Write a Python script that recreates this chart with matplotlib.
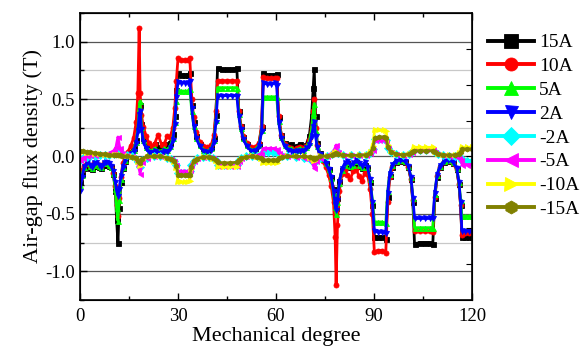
import matplotlib
matplotlib.use("Agg")
import matplotlib.pyplot as plt
from matplotlib.ticker import MultipleLocator

# mechanical angle (deg) for the positive-current curves
deg_pos = [0, 0.6, 1.3, 2.2, 3.0, 3.6, 4.3, 5.0, 5.8, 6.5,
           7.3, 8.0, 8.8, 9.5, 10.2, 10.8, 11.2, 11.6, 12.0, 12.5,
           13.1, 13.8, 14.6, 15.5, 16.4, 17.2, 17.7, 18.1, 18.4, 18.8,
           19.4, 20.2, 21.0, 22.0, 22.8, 23.9, 25.0, 25.8, 26.7, 27.6,
           28.4, 29.0, 29.5, 30.0, 31.0, 32.0, 33.0, 33.6, 34.2, 34.8,
           35.6, 36.6, 37.8, 39.0, 40.2, 41.0, 41.6, 42.1, 43.5, 45.0,
           46.5, 48.0, 48.6, 49.2, 50.0, 51.0, 52.3, 53.6, 54.8, 55.6,
           56.1, 57.3, 58.5, 59.6, 60.2, 60.8, 61.6, 62.6, 63.6, 64.7,
           65.6, 66.3, 67.2, 68.2, 69.2, 70.2, 70.9, 71.4, 71.7, 72.1,
           72.6, 73.4, 74.3, 75.2, 76.1, 76.9, 77.6, 78.1, 78.4, 78.8,
           79.4, 80.2, 81.0, 81.8, 82.7, 83.6, 84.5, 85.4, 86.3, 87.2,
           88.0, 88.8, 89.5, 90.1, 91.2, 92.4, 93.6, 94.2, 94.8, 95.6,
           96.6, 98.0, 99.4, 100.5, 101.3, 101.9, 102.4, 104.0, 105.5, 107.0,
           108.0, 108.6, 109.3, 110.2, 111.4, 112.8, 114.2, 115.3, 116.0, 116.5,
           116.9, 118.0, 119.0, 120.0]

b_15A = [-0.22, -0.15, -0.10, -0.08, -0.10, -0.11, -0.08, -0.08, -0.09, -0.10,
         -0.07, -0.07, -0.08, -0.09, -0.15, -0.30, -0.55, -0.75, -0.45, -0.22,
         -0.10, -0.04, 0.00, 0.04, 0.07, 0.14, 0.25, 0.40, 0.45, 0.28,
         0.16, 0.10, 0.08, 0.08, 0.11, 0.08, 0.08, 0.11, 0.09, 0.12,
         0.20, 0.35, 0.58, 0.73, 0.71, 0.71, 0.71, 0.73, 0.45, 0.30,
         0.18, 0.11, 0.07, 0.06, 0.08, 0.16, 0.36, 0.77, 0.76, 0.76,
         0.76, 0.77, 0.40, 0.27, 0.17, 0.11, 0.07, 0.07, 0.11, 0.26,
         0.73, 0.71, 0.71, 0.71, 0.72, 0.34, 0.19, 0.12, 0.10, 0.11,
         0.08, 0.09, 0.11, 0.08, 0.10, 0.18, 0.35, 0.60, 0.76, 0.35,
         0.12, 0.03, -0.02, -0.06, -0.11, -0.18, -0.28, -0.40, -0.45, -0.36,
         -0.21, -0.12, -0.08, -0.06, -0.09, -0.08, -0.05, -0.08, -0.10, -0.07,
         -0.10, -0.22, -0.42, -0.70, -0.70, -0.70, -0.72, -0.35, -0.17, -0.09,
         -0.05, -0.04, -0.05, -0.09, -0.20, -0.40, -0.76, -0.75, -0.75, -0.75,
         -0.76, -0.36, -0.18, -0.09, -0.05, -0.04, -0.06, -0.11, -0.24, -0.42,
         -0.70, -0.70, -0.70, -0.70]

b_10A = [-0.20, -0.12, -0.08, -0.06, -0.08, -0.09, -0.06, -0.06, -0.07, -0.09,
         -0.06, -0.06, -0.07, -0.09, -0.14, -0.26, -0.42, -0.52, -0.36, -0.18,
         -0.06, 0.00, 0.04, 0.09, 0.16, 0.30, 0.55, 1.12, 0.55, 0.36,
         0.26, 0.18, 0.12, 0.09, 0.11, 0.19, 0.10, 0.11, 0.18, 0.17,
         0.25, 0.42, 0.66, 0.86, 0.84, 0.84, 0.84, 0.86, 0.50, 0.34,
         0.21, 0.13, 0.09, 0.08, 0.10, 0.19, 0.40, 0.66, 0.66, 0.66,
         0.66, 0.66, 0.40, 0.27, 0.18, 0.12, 0.08, 0.08, 0.12, 0.27,
         0.69, 0.68, 0.68, 0.68, 0.68, 0.35, 0.19, 0.11, 0.08, 0.07,
         0.06, 0.07, 0.08, 0.07, 0.09, 0.14, 0.25, 0.40, 0.50, 0.25,
         0.10, 0.00, -0.04, -0.09, -0.16, -0.26, -0.40, -0.70, -1.12, -0.60,
         -0.30, -0.15, -0.12, -0.16, -0.20, -0.13, -0.11, -0.17, -0.21, -0.14,
         -0.15, -0.28, -0.50, -0.83, -0.82, -0.82, -0.84, -0.40, -0.18, -0.09,
         -0.05, -0.04, -0.05, -0.09, -0.20, -0.38, -0.65, -0.65, -0.65, -0.65,
         -0.66, -0.35, -0.17, -0.09, -0.05, -0.04, -0.06, -0.11, -0.24, -0.42,
         -0.68, -0.67, -0.67, -0.67]

b_5A = [-0.25, -0.16, -0.09, -0.06, -0.08, -0.10, -0.07, -0.06, -0.08, -0.09,
        -0.06, -0.06, -0.07, -0.09, -0.14, -0.28, -0.45, -0.56, -0.38, -0.20,
        -0.09, -0.03, 0.01, 0.03, 0.06, 0.13, 0.24, 0.42, 0.48, 0.26,
        0.14, 0.08, 0.06, 0.05, 0.07, 0.05, 0.05, 0.07, 0.06, 0.09,
        0.16, 0.30, 0.48, 0.58, 0.57, 0.57, 0.57, 0.59, 0.40, 0.27,
        0.16, 0.10, 0.06, 0.05, 0.07, 0.14, 0.32, 0.60, 0.60, 0.60,
        0.60, 0.60, 0.37, 0.25, 0.16, 0.10, 0.06, 0.06, 0.10, 0.23,
        0.52, 0.52, 0.52, 0.52, 0.52, 0.31, 0.17, 0.10, 0.07, 0.07,
        0.05, 0.06, 0.07, 0.06, 0.08, 0.13, 0.24, 0.38, 0.46, 0.22,
        0.09, 0.02, -0.02, -0.06, -0.11, -0.19, -0.32, -0.44, -0.50, -0.40,
        -0.23, -0.12, -0.07, -0.05, -0.08, -0.07, -0.04, -0.07, -0.09, -0.06,
        -0.09, -0.20, -0.38, -0.57, -0.57, -0.57, -0.58, -0.30, -0.15, -0.07,
        -0.04, -0.03, -0.04, -0.08, -0.18, -0.36, -0.62, -0.62, -0.62, -0.62,
        -0.62, -0.33, -0.16, -0.08, -0.04, -0.03, -0.05, -0.10, -0.22, -0.38,
        -0.52, -0.52, -0.52, -0.52]

b_2A = [-0.30, -0.18, -0.09, -0.05, -0.07, -0.09, -0.06, -0.05, -0.07, -0.09,
        -0.06, -0.05, -0.06, -0.08, -0.13, -0.22, -0.30, -0.34, -0.28, -0.17,
        -0.09, -0.03, 0.00, 0.02, 0.05, 0.12, 0.22, 0.36, 0.40, 0.24,
        0.13, 0.07, 0.04, 0.03, 0.05, 0.03, 0.03, 0.05, 0.04, 0.07,
        0.14, 0.28, 0.52, 0.65, 0.64, 0.64, 0.64, 0.66, 0.42, 0.27,
        0.16, 0.09, 0.05, 0.04, 0.06, 0.13, 0.30, 0.53, 0.53, 0.53,
        0.53, 0.53, 0.35, 0.24, 0.15, 0.09, 0.05, 0.05, 0.09, 0.22,
        0.64, 0.63, 0.63, 0.64, 0.62, 0.30, 0.16, 0.09, 0.06, 0.05,
        0.04, 0.05, 0.05, 0.05, 0.07, 0.10, 0.18, 0.26, 0.30, 0.18,
        0.08, 0.02, -0.02, -0.06, -0.11, -0.18, -0.30, -0.42, -0.47, -0.38,
        -0.22, -0.11, -0.06, -0.04, -0.07, -0.06, -0.03, -0.06, -0.08, -0.05,
        -0.09, -0.20, -0.40, -0.65, -0.66, -0.66, -0.67, -0.32, -0.15, -0.07,
        -0.04, -0.03, -0.04, -0.08, -0.18, -0.36, -0.54, -0.54, -0.54, -0.54,
        -0.54, -0.32, -0.16, -0.08, -0.04, -0.03, -0.05, -0.10, -0.22, -0.40,
        -0.65, -0.65, -0.65, -0.65]

# mechanical angle (deg) for the negative-current curves
deg_neg = [0, 1.0, 2.0, 3.0, 4.5, 6.0, 7.5, 9.0, 10.3, 11.0,
           11.6, 12.2, 13.0, 14.5, 16.0, 17.2, 17.9, 18.4, 19.0, 20.5,
           22.5, 24.5, 26.5, 28.0, 28.9, 29.5, 30.0, 31.0, 32.0, 33.0,
           33.6, 34.1, 34.8, 35.8, 37.5, 39.5, 40.8, 41.6, 42.1, 44.0,
           46.0, 48.0, 48.6, 49.4, 50.8, 52.5, 54.2, 55.5, 56.1, 57.5,
           59.0, 60.2, 60.8, 61.8, 63.5, 66.0, 68.5, 70.5, 71.2, 71.7,
           72.3, 73.5, 75.5, 77.2, 77.9, 78.4, 79.0, 80.5, 83.0, 85.5,
           87.5, 88.8, 89.6, 90.2, 91.5, 93.0, 93.7, 94.3, 95.2, 96.8,
           98.8, 100.6, 101.5, 102.2, 104.0, 106.0, 108.0, 108.6, 109.5, 111.0,
           113.0, 114.8, 115.9, 116.5, 117.0, 118.5, 120.0]

b_m2A = [-0.03, -0.015, -0.005, 0.0, 0.005, 0.01, 0.01, 0.015, 0.025, 0.04,
         0.07, 0.04, 0.02, 0.01, 0.0, -0.02, -0.05, -0.09, -0.03, -0.01,
         0.0, 0.0, -0.01, -0.02, -0.04, -0.07, -0.14, -0.14, -0.14, -0.14,
         -0.13, -0.07, -0.035, -0.015, -0.005, -0.005, -0.015, -0.03, -0.07, -0.07,
         -0.07, -0.07, -0.03, -0.015, 0.0, 0.005, 0.005, 0.015, 0.035, 0.035,
         0.035, 0.035, 0.015, 0.005, 0.0, -0.005, -0.01, -0.02, -0.04, -0.06,
         -0.03, -0.01, 0.005, 0.02, 0.04, 0.06, 0.03, 0.01, 0.01, 0.01,
         0.015, 0.03, 0.065, 0.15, 0.15, 0.15, 0.14, 0.07, 0.035, 0.02,
         0.015, 0.025, 0.035, 0.06, 0.06, 0.06, 0.06, 0.035, 0.02, 0.01,
         0.005, 0.0, -0.005, -0.015, -0.035, -0.035, -0.035]

b_m5A = [-0.03, -0.01, 0.0, 0.01, 0.015, 0.02, 0.02, 0.03, 0.05, 0.08,
         0.17, 0.07, 0.03, 0.01, 0.0, -0.03, -0.08, -0.15, -0.05, -0.01,
         0.0, 0.0, -0.01, -0.02, -0.04, -0.07, -0.13, -0.13, -0.13, -0.13,
         -0.12, -0.07, -0.035, -0.015, -0.005, -0.005, -0.015, -0.035, -0.08, -0.08,
         -0.08, -0.08, -0.035, -0.015, 0.0, 0.005, 0.01, 0.025, 0.07, 0.07,
         0.07, 0.065, 0.03, 0.01, 0.0, -0.005, -0.01, -0.03, -0.06, -0.10,
         -0.04, -0.01, 0.005, 0.03, 0.06, 0.10, 0.04, 0.015, 0.01, 0.01,
         0.015, 0.03, 0.06, 0.14, 0.14, 0.14, 0.13, 0.07, 0.035, 0.02,
         0.015, 0.025, 0.035, 0.065, 0.065, 0.065, 0.065, 0.035, 0.02, 0.01,
         0.005, 0.0, -0.01, -0.03, -0.07, -0.07, -0.07]

b_m10A = [0.04, 0.035, 0.03, 0.03, 0.025, 0.02, 0.015, 0.01, 0.01, 0.01,
          0.015, 0.01, 0.005, 0.0, -0.005, -0.015, -0.05, -0.08, -0.03, -0.005,
          0.0, 0.0, -0.01, -0.025, -0.05, -0.10, -0.22, -0.22, -0.22, -0.22,
          -0.21, -0.11, -0.05, -0.02, -0.005, -0.005, -0.02, -0.04, -0.09, -0.09,
          -0.09, -0.09, -0.04, -0.02, -0.005, 0.0, -0.005, -0.02, -0.06, -0.06,
          -0.06, -0.06, -0.02, -0.005, 0.0, 0.0, 0.0, -0.01, -0.02, -0.04,
          -0.015, 0.0, 0.005, 0.015, 0.03, 0.04, 0.025, 0.01, 0.01, 0.01,
          0.015, 0.04, 0.09, 0.23, 0.23, 0.23, 0.22, 0.10, 0.045, 0.02,
          0.015, 0.025, 0.04, 0.08, 0.08, 0.08, 0.08, 0.04, 0.02, 0.015,
          0.01, 0.015, 0.03, 0.05, 0.08, 0.08, 0.08]

b_m15A = [0.05, 0.045, 0.04, 0.035, 0.03, 0.025, 0.02, 0.015, 0.01, 0.01,
          0.01, 0.01, 0.005, 0.0, -0.005, -0.01, -0.04, -0.06, -0.02, 0.0,
          0.0, 0.0, -0.01, -0.02, -0.04, -0.08, -0.16, -0.165, -0.165, -0.165,
          -0.16, -0.09, -0.04, -0.02, -0.005, -0.005, -0.015, -0.03, -0.05, -0.055,
          -0.055, -0.05, -0.03, -0.015, -0.005, 0.0, -0.005, -0.015, -0.03, -0.03,
          -0.03, -0.03, -0.015, -0.005, 0.0, 0.0, 0.0, -0.005, -0.01, -0.02,
          -0.01, 0.0, 0.005, 0.01, 0.02, 0.03, 0.02, 0.01, 0.01, 0.01,
          0.015, 0.03, 0.07, 0.16, 0.17, 0.17, 0.16, 0.08, 0.04, 0.02,
          0.015, 0.02, 0.035, 0.05, 0.05, 0.05, 0.05, 0.035, 0.02, 0.015,
          0.01, 0.015, 0.025, 0.04, 0.065, 0.065, 0.065]

labels = ["15A", "10A", "5A", "2A", "-2A", "-5A", "-10A", "-15A"]

plt.rcParams["font.family"] = ["Liberation Serif", "DejaVu Serif"]
plt.rcParams["axes.unicode_minus"] = False

fig = plt.figure(figsize=(5.82, 3.48), dpi=100)
ax = fig.add_axes([0.1375, 0.138, 0.6735, 0.8246])

series = [
    (deg_pos, b_15A, "black", "s"),
    (deg_pos, b_10A, "#ff0000", "o"),
    (deg_pos, b_5A, "#00ff00", "^"),
    (deg_pos, b_2A, "#0000ff", "v"),
    (deg_neg, b_m2A, "#00ffff", "D"),
    (deg_neg, b_m5A, "#ff00ff", "<"),
    (deg_neg, b_m10A, "#ffff00", ">"),
    (deg_neg, b_m15A, "#808000", "h"),
]
for (x, y, c, m), lab in zip(series, labels):
    ax.plot(x, y, color=c, marker=m, markersize=3.6, markeredgewidth=0.6,
            linewidth=2.0, label=lab)

ax.set_xlim(0, 120)
ax.set_ylim(-1.25, 1.25)
ax.xaxis.set_major_locator(MultipleLocator(30))
ax.xaxis.set_minor_locator(MultipleLocator(15))
ax.yaxis.set_major_locator(MultipleLocator(0.5))
ax.yaxis.set_minor_locator(MultipleLocator(0.25))
ax.yaxis.set_major_formatter(plt.FormatStrFormatter("%.1f"))
ax.grid(axis="y", which="major", color="#555555", linewidth=0.9)
ax.grid(axis="y", which="minor", color="#c8c8c8", linewidth=0.9)
ax.set_axisbelow(True)
ax.tick_params(which="both", direction="in", top=True, labelsize=13.5)
ax.tick_params(which="major", length=5, width=1)
ax.tick_params(which="minor", length=3, width=1)
ax.tick_params(axis="x", pad=6)
ax.tick_params(axis="y", which="both", left=False)
for s in ax.spines.values():
    s.set_linewidth(1.2)

# right-hand axis only carries tick marks
ax2 = ax.twinx()
ax2.set_ylim(0, 8)
ax2.set_yticks(range(1, 8))
ax2.tick_params(direction="in", length=4, labelright=False)

ax.set_xlabel("Mechanical degree", fontsize=16, labelpad=1)
ax.set_ylabel("Air-gap flux density (T)", fontsize=16, labelpad=2)

leg = ax.legend(loc="upper left", bbox_to_anchor=(1.02, 0.955), frameon=False,
                fontsize=14, handlelength=2.4, handletextpad=0.25,
                labelspacing=0.32, borderaxespad=0, markerscale=2.6)
for h in leg.legend_handles:
    h.set_linewidth(2.8)

fig.savefig("out.png", dpi=100)
